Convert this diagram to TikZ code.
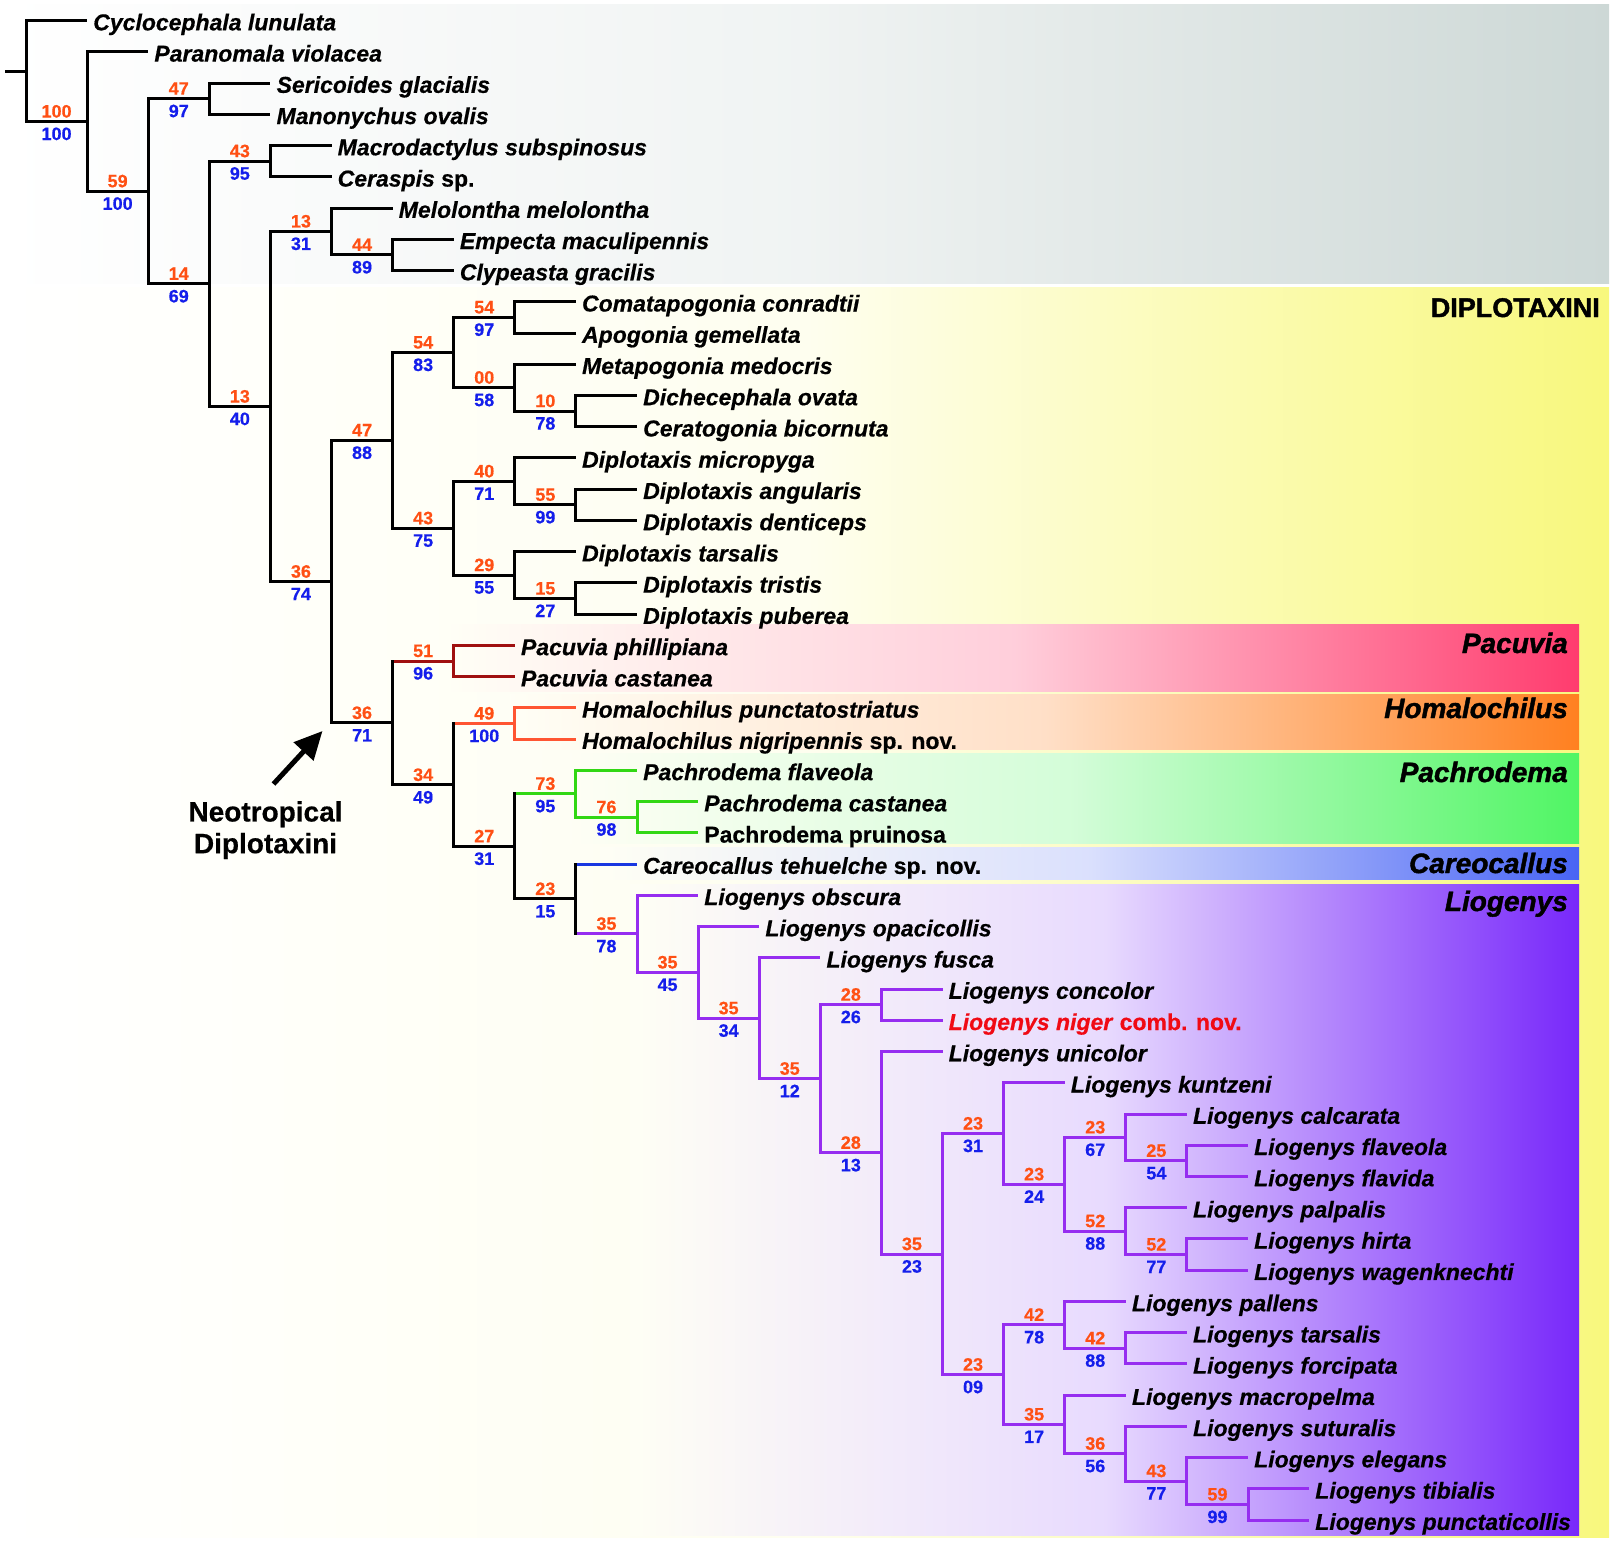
\documentclass[tikz,border=0pt]{standalone}
\usepackage{fontspec}
\setmainfont{Liberation Sans}[BoldFeatures={FakeBold=0.5},BoldItalicFeatures={FakeBold=0.5}]
\newfontfamily\cladefont{Liberation Sans}[BoldItalicFeatures={FakeBold=1.5},BoldFeatures={FakeBold=1.5}]
\usepackage{tikz}
\usetikzlibrary{arrows.meta,positioning,calc}

\definecolor{pacred}{RGB}{160,16,16}
\definecolor{homorange}{RGB}{255,85,50}
\definecolor{pachgreen}{RGB}{50,215,20}
\definecolor{careoblue}{RGB}{25,55,225}
\definecolor{liopurple}{RGB}{150,45,240}
\definecolor{suporange}{RGB}{255,80,20}
\definecolor{supblue}{RGB}{20,30,235}
\definecolor{nigred}{RGB}{240,10,20}
\definecolor{bggray}{RGB}{205,216,214}
\definecolor{bgyellow}{RGB}{248,248,125}
\definecolor{bgpink}{RGB}{255,60,110}
\definecolor{bgorange}{RGB}{255,128,32}
\definecolor{bggreen}{RGB}{80,245,100}
\definecolor{bgblue}{RGB}{72,100,245}
\definecolor{bgviolet}{RGB}{120,40,250}

\begin{document}
\begin{tikzpicture}[
  x=1pt, y=-1pt,
  branch/.style={line width=3pt},
  vbranch/.style={line width=3pt, line cap=rect},
  leaf/.style={anchor=west, inner xsep=6pt, inner ysep=0pt, text height=19.5pt, text depth=0pt, font=\fontsize{23}{27}\selectfont\bfseries\itshape},
  supor/.style={anchor=base, yshift=4pt, inner sep=0pt, text=suporange, font=\fontsize{18}{20}\selectfont\bfseries},
  supbl/.style={anchor=base, yshift=-18.5pt, inner sep=0pt, text=supblue, font=\fontsize{18}{20}\selectfont\bfseries},
  cladelbl/.style={anchor=base east, inner sep=0pt, font=\fontsize{28}{30}\selectfont\cladefont\bfseries\itshape},
  bigarrow/.style={-{Triangle[length=28pt,width=26pt]}, line width=5pt}
]
  \useasboundingbox (0,0) rectangle (1614,1541);

  % Background bands
  \shade[left color=white, right color=bggray, middle color=bggray!30] (0,5) rectangle (1609,283);
  \shade[left color=white, right color=bgyellow, middle color=bgyellow!12] (0,287) rectangle (1609,1537);
  \shade[left color=bgyellow!7, right color=bgpink, middle color=bgpink!25] (450,624) rectangle (1579,691);
  \shade[left color=bgyellow!7, right color=bgorange, middle color=bgorange!25] (510,694) rectangle (1579,749);
  \shade[left color=bgyellow!8, right color=bggreen, middle color=bggreen!25] (570,753) rectangle (1579,843);
  \shade[left color=bgyellow!8, right color=bgblue, middle color=bgblue!20] (600,847) rectangle (1579,879);
  \shade[left color=bgyellow!8, right color=bgviolet, middle color=bgviolet!17] (630,884) rectangle (1579,1535);

  % Clade labels
  \node[anchor=base east, inner sep=0pt, font=\fontsize{27}{30}\selectfont\cladefont\bfseries] (diplotaxini) at (1600,317) {DIPLOTAXINI};
  \node[cladelbl] (pacuvia) at (1568,653) {Pacuvia};
  \node[cladelbl] (homalochilus) at (1568,718) {Homalochilus};
  \node[cladelbl] (pachrodema) at (1568,782) {Pachrodema};
  \node[cladelbl] (careocallus) at (1568,873) {Careocallus};
  \node[cladelbl] (liogenys) at (1568,911) {Liogenys};

  \begin{scope}[shift={(26pt,-20.6pt)}, x=61.1pt, y=-31.24pt]
    % Internal nodes (column, row)
    \coordinate (root) at (0,1.6160);
    \coordinate (nA) at (1,3.2319);
    \coordinate (nB) at (2,5.4638);
    \coordinate (nC) at (3,2.5);
    \coordinate (nD) at (3,8.4276);
    \coordinate (nE) at (4,4.5);
    \coordinate (nF) at (4,12.3552);
    \coordinate (nG) at (5,6.75);
    \coordinate (nI) at (6,7.5);
    \coordinate (nH) at (5,17.9604);
    \coordinate (nJ) at (6,13.4375);
    \coordinate (nL) at (7,10.625);
    \coordinate (nN) at (8,9.5);
    \coordinate (nO) at (8,11.75);
    \coordinate (nP) at (9,12.5);
    \coordinate (nM) at (7,16.25);
    \coordinate (nQ) at (8,14.75);
    \coordinate (nS) at (9,15.5);
    \coordinate (nR) at (8,17.75);
    \coordinate (nT) at (9,18.5);
    \coordinate (nK) at (6,22.4834);
    \coordinate (nU) at (7,20.5);
    \coordinate (nV) at (7,24.4667);
    \coordinate (nW) at (8,22.5);
    \coordinate (nX) at (8,26.4335);
    \coordinate (nY) at (9,24.75);
    \coordinate (nYb) at (10,25.5);
    \coordinate (nZ) at (9,28.1169);
    \coordinate (nAA) at (10,29.2339);
    \coordinate (nAB) at (11,30.4678);
    \coordinate (nAC) at (12,31.9355);
    \coordinate (nAD) at (13,33.8711);
    \coordinate (nAE) at (14,31.5);
    \coordinate (nAF) at (14,36.2422);
    \coordinate (nAG) at (15,39.4844);
    \coordinate (nAH) at (16,35.625);
    \coordinate (nAJ) at (17,37.25);
    \coordinate (nAK) at (18,35.75);
    \coordinate (nAM) at (19,36.5);
    \coordinate (nAL) at (18,38.75);
    \coordinate (nAN) at (19,39.5);
    \coordinate (nAI) at (16,43.3438);
    \coordinate (nAO) at (17,41.75);
    \coordinate (nAQ) at (18,42.5);
    \coordinate (nAP) at (17,44.9375);
    \coordinate (nAR) at (18,45.875);
    \coordinate (nAS) at (19,46.75);
    \coordinate (nAT) at (20,47.5);
    \coordinate (stub) at ([xshift=-21pt]root);

    % Taxa
    \node[leaf] (cyclo) at (1,0) {Cyclocephala lunulata};
    \node[leaf] (parano) at (2,1) {Paranomala violacea};
    \node[leaf] (serico) at (4,2) {Sericoides glacialis};
    \node[leaf] (manony) at (4,3) {Manonychus ovalis};
    \node[leaf] (macro) at (5,4) {Macrodactylus subspinosus};
    \node[leaf] (ceras) at (5,5) {Ceraspis \textup{sp.}};
    \node[leaf] (melol) at (6,6) {Melolontha melolontha};
    \node[leaf] (empec) at (7,7) {Empecta maculipennis};
    \node[leaf] (clype) at (7,8) {Clypeasta gracilis};
    \node[leaf] (comat) at (9,9) {Comatapogonia conradtii};
    \node[leaf] (apog) at (9,10) {Apogonia gemellata};
    \node[leaf] (metap) at (9,11) {Metapogonia medocris};
    \node[leaf] (diche) at (10,12) {Dichecephala ovata};
    \node[leaf] (cerat) at (10,13) {Ceratogonia bicornuta};
    \node[leaf] (dmicr) at (9,14) {Diplotaxis micropyga};
    \node[leaf] (dangu) at (10,15) {Diplotaxis angularis};
    \node[leaf] (dtent) at (10,16) {Diplotaxis denticeps};
    \node[leaf] (dtars) at (9,17) {Diplotaxis tarsalis};
    \node[leaf] (dtris) at (10,18) {Diplotaxis tristis};
    \node[leaf] (dpube) at (10,19) {Diplotaxis puberea};
    \node[leaf] (pphil) at (8,20) {Pacuvia phillipiana};
    \node[leaf] (pcast) at (8,21) {Pacuvia castanea};
    \node[leaf] (hpunc) at (9,22) {Homalochilus punctatostriatus};
    \node[leaf] (hnigr) at (9,23) {Homalochilus nigripennis \textup{sp. nov.}};
    \node[leaf] (pflav) at (10,24) {Pachrodema flaveola};
    \node[leaf] (pcasn) at (11,25) {Pachrodema castanea};
    \node[leaf] (pprui) at (11,26) {\textup{Pachrodema pruinosa}};
    \node[leaf] (careo) at (10,27) {Careocallus tehuelche \textup{sp. nov.}};
    \node[leaf] (lobsc) at (11,28) {Liogenys obscura};
    \node[leaf] (lopac) at (12,29) {Liogenys opacicollis};
    \node[leaf] (lfusc) at (13,30) {Liogenys fusca};
    \node[leaf] (lconc) at (15,31) {Liogenys concolor};
    \node[leaf, text=nigred] (lnige) at (15,32) {Liogenys niger \textup{comb. nov.}};
    \node[leaf] (lunic) at (15,33) {Liogenys unicolor};
    \node[leaf] (lkunt) at (17,34) {Liogenys kuntzeni};
    \node[leaf] (lcalc) at (19,35) {Liogenys calcarata};
    \node[leaf] (lflve) at (20,36) {Liogenys flaveola};
    \node[leaf] (lflvi) at (20,37) {Liogenys flavida};
    \node[leaf] (lpalp) at (19,38) {Liogenys palpalis};
    \node[leaf] (lhirt) at (20,39) {Liogenys hirta};
    \node[leaf] (lwage) at (20,40) {Liogenys wagenknechti};
    \node[leaf] (lpall) at (18,41) {Liogenys pallens};
    \node[leaf] (ltars) at (19,42) {Liogenys tarsalis};
    \node[leaf] (lforc) at (19,43) {Liogenys forcipata};
    \node[leaf] (lmacr) at (18,44) {Liogenys macropelma};
    \node[leaf] (lsutu) at (19,45) {Liogenys suturalis};
    \node[leaf] (leleg) at (20,46) {Liogenys elegans};
    \node[leaf] (ltibi) at (21,47) {Liogenys tibialis};
    \node[leaf] (lpunc) at (21,48) {Liogenys punctaticollis};

    % Branches: parent / child a / colour a / child b / colour b / colour of the vertical
    \draw[branch] (stub) -- (root);
    \foreach \pn/\ka/\ca/\kb/\cb/\cv in {
      root/cyclo/black/nA/black/black,
      nA/parano/black/nB/black/black,
      nB/nC/black/nD/black/black,
      nC/serico/black/manony/black/black,
      nD/nE/black/nF/black/black,
      nE/macro/black/ceras/black/black,
      nF/nG/black/nH/black/black,
      nG/melol/black/nI/black/black,
      nI/empec/black/clype/black/black,
      nH/nJ/black/nK/black/black,
      nJ/nL/black/nM/black/black,
      nL/nN/black/nO/black/black,
      nN/comat/black/apog/black/black,
      nO/metap/black/nP/black/black,
      nP/diche/black/cerat/black/black,
      nM/nQ/black/nR/black/black,
      nQ/dmicr/black/nS/black/black,
      nS/dangu/black/dtent/black/black,
      nR/dtars/black/nT/black/black,
      nT/dtris/black/dpube/black/black,
      nK/nU/pacred/nV/black/black,
      nU/pphil/pacred/pcast/pacred/pacred,
      nV/nW/homorange/nX/black/black,
      nW/hpunc/homorange/hnigr/homorange/homorange,
      nX/nY/pachgreen/nZ/black/black,
      nY/pflav/pachgreen/nYb/pachgreen/pachgreen,
      nYb/pcasn/pachgreen/pprui/pachgreen/pachgreen,
      nZ/careo/careoblue/nAA/liopurple/black,
      nAA/lobsc/liopurple/nAB/liopurple/liopurple,
      nAB/lopac/liopurple/nAC/liopurple/liopurple,
      nAC/lfusc/liopurple/nAD/liopurple/liopurple,
      nAD/nAE/liopurple/nAF/liopurple/liopurple,
      nAE/lconc/liopurple/lnige/liopurple/liopurple,
      nAF/lunic/liopurple/nAG/liopurple/liopurple,
      nAG/nAH/liopurple/nAI/liopurple/liopurple,
      nAH/lkunt/liopurple/nAJ/liopurple/liopurple,
      nAJ/nAK/liopurple/nAL/liopurple/liopurple,
      nAK/lcalc/liopurple/nAM/liopurple/liopurple,
      nAM/lflve/liopurple/lflvi/liopurple/liopurple,
      nAL/lpalp/liopurple/nAN/liopurple/liopurple,
      nAN/lhirt/liopurple/lwage/liopurple/liopurple,
      nAI/nAO/liopurple/nAP/liopurple/liopurple,
      nAO/lpall/liopurple/nAQ/liopurple/liopurple,
      nAQ/ltars/liopurple/lforc/liopurple/liopurple,
      nAP/lmacr/liopurple/nAR/liopurple/liopurple,
      nAR/lsutu/liopurple/nAS/liopurple/liopurple,
      nAS/leleg/liopurple/nAT/liopurple/liopurple,
      nAT/ltibi/liopurple/lpunc/liopurple/liopurple} {
      \draw[branch, draw=\ca] (\pn |- \ka) -- (\ka);
      \draw[branch, draw=\cb] (\pn |- \kb) -- (\kb);
      \draw[vbranch, draw=\cv] (\pn |- \ka) -- (\pn |- \kb);
    }

    % Support values
    \foreach \pn/\cn/\vo/\vb in {root/nA/100/100, nA/nB/59/100, nB/nC/47/97, nB/nD/14/69,
      nD/nE/43/95, nD/nF/13/40, nF/nG/13/31, nG/nI/44/89, nF/nH/36/74, nH/nJ/47/88,
      nJ/nL/54/83, nL/nN/54/97, nL/nO/00/58, nO/nP/10/78, nJ/nM/43/75, nM/nQ/40/71,
      nQ/nS/55/99, nM/nR/29/55, nR/nT/15/27, nH/nK/36/71, nK/nU/51/96, nK/nV/34/49,
      nV/nW/49/100, nV/nX/27/31, nX/nY/73/95, nY/nYb/76/98, nX/nZ/23/15, nZ/nAA/35/78,
      nAA/nAB/35/45, nAB/nAC/35/34, nAC/nAD/35/12, nAD/nAE/28/26, nAD/nAF/28/13,
      nAF/nAG/35/23, nAG/nAH/23/31, nAH/nAJ/23/24, nAJ/nAK/23/67, nAK/nAM/25/54,
      nAJ/nAL/52/88, nAL/nAN/52/77, nAG/nAI/23/09, nAI/nAO/42/78, nAO/nAQ/42/88,
      nAI/nAP/35/17, nAP/nAR/36/56, nAR/nAS/43/77, nAS/nAT/59/99} {
      \node[supor] (o\cn) at ($(\pn |- \cn)!.5!(\cn)$) {\vo};
      \node[supbl] (b\cn) at ($(\pn |- \cn)!.5!(\cn)$) {\vb};
    }

    \coordinate (hk) at (nH |- nK);
    \coordinate (arrowtip) at ([xshift=-9pt,yshift=-8pt]hk);
  \end{scope}

  % Neotropical clade pointer
  \node[anchor=north, inner sep=0pt, align=center, font=\fontsize{28}{31.7}\selectfont\bfseries] (neo) at (265.5,801) {Neotropical\\Diplotaxini};
  \draw[bigarrow] ([shift={(8pt,17pt)}]neo.north) -- (arrowtip);
\end{tikzpicture}
\end{document}
